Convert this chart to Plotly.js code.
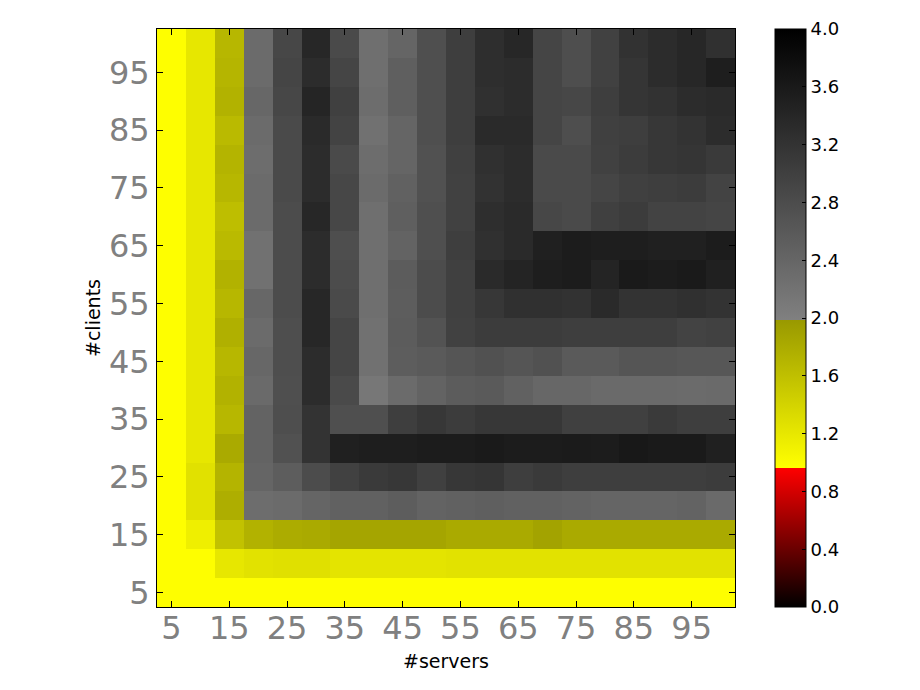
<!DOCTYPE html>
<html>
<head>
<meta charset="utf-8">
<script src="https://cdn.plot.ly/plotly-3.0.1.min.js"></script>
<style>html,body{margin:0;padding:0;background:#fff}#chart{width:920px;height:690px}</style>
</head>
<body>
<div id="chart"></div>
<script>
const servers = [5,10,15,20,25,30,35,40,45,50,55,60,65,70,75,80,85,90,95,100];
const clients = [5,10,15,20,25,30,35,40,45,50,55,60,65,70,75,80,85,90,95,100];
const tickLabels = [5,15,25,35,45,55,65,75,85,95];
const colorbarTicks = [0,0.4,0.8,1.2,1.6,2.0,2.4,2.8,3.2,3.6,4.0];

const c5   = [.97,.97,.97,.97,.97,.97,.97,.97,.97,.97,.97,.97,.97,.97,.97,.97,.97,.97,.97,.97];
const c10  = [.97,.97,1.20,1.25,1.27,1.27,1.23,1.23,1.23,1.23,1.25,1.25,1.25,1.25,1.25,1.25,1.25,1.25,1.25,1.25];
const c15  = [.97,1.12,1.58,1.74,1.80,1.82,1.87,1.87,1.87,1.87,1.82,1.82,1.82,1.89,1.82,1.82,1.82,1.82,1.82,1.82];
const c20  = [.97,1.26,1.78,2.28,2.31,2.41,2.47,2.47,2.53,2.44,2.47,2.50,2.47,2.47,2.44,2.41,2.41,2.41,2.44,2.34];
const c25  = [.97,1.26,1.72,2.41,2.53,2.81,2.97,3.09,3.13,3.00,3.13,3.16,3.03,3.09,3.03,3.03,3.03,3.03,3.03,3.06];
const c30  = [.97,1.20,1.82,2.44,2.72,3.19,3.50,3.53,3.53,3.56,3.56,3.59,3.56,3.56,3.58,3.56,3.63,3.59,3.59,3.50];
const c35  = [.97,1.20,1.69,2.44,2.78,3.19,2.75,2.75,3.03,3.13,3.06,3.13,3.13,3.13,3.00,3.00,3.00,3.09,3.03,3.03];
const c40  = [.97,1.20,1.74,2.34,2.75,3.31,2.84,2.13,2.31,2.44,2.56,2.59,2.47,2.38,2.38,2.34,2.34,2.34,2.31,2.34];
const c45  = [.97,1.20,1.69,2.38,2.78,3.31,2.91,2.22,2.53,2.59,2.66,2.72,2.66,2.72,2.59,2.59,2.66,2.66,2.63,2.63];
const c50  = [.97,1.20,1.76,2.31,2.78,3.38,2.91,2.22,2.56,2.69,2.97,3.06,3.06,3.06,3.03,3.03,3.03,3.03,2.94,2.97];
const c55  = [.97,1.20,1.69,2.38,2.81,3.38,2.84,2.25,2.53,2.81,3.00,3.13,3.25,3.25,3.22,3.34,3.19,3.19,3.25,3.19];
const c60  = [.97,1.20,1.74,2.22,2.81,3.31,2.81,2.25,2.56,2.81,3.00,3.34,3.44,3.53,3.56,3.44,3.59,3.56,3.59,3.50];
const c65  = [.97,1.20,1.66,2.22,2.81,3.31,2.78,2.25,2.44,2.75,3.03,3.25,3.34,3.50,3.56,3.53,3.53,3.50,3.50,3.56];
const c70  = [.97,1.20,1.62,2.31,2.81,3.38,2.88,2.25,2.50,2.75,2.97,3.28,3.34,2.88,2.84,3.00,3.06,2.94,2.94,2.91];
const c75  = [.97,1.20,1.69,2.31,2.84,3.31,2.88,2.31,2.47,2.72,2.97,3.22,3.31,2.84,2.84,2.91,3.00,3.03,3.06,2.94];
const c80  = [.97,1.20,1.72,2.28,2.84,3.31,2.84,2.28,2.41,2.72,3.00,3.25,3.31,2.84,2.84,2.97,3.06,3.13,3.16,3.09];
const c85  = [.97,1.20,1.66,2.31,2.84,3.34,2.94,2.22,2.41,2.75,3.03,3.34,3.34,2.91,2.78,3.00,3.03,3.13,3.19,3.31];
const c90  = [.97,1.20,1.74,2.38,2.88,3.41,3.00,2.28,2.50,2.75,3.03,3.25,3.31,2.91,2.88,3.03,3.16,3.22,3.31,3.34];
const c95  = [.97,1.20,1.71,2.31,2.91,3.31,2.91,2.25,2.50,2.75,3.03,3.28,3.31,2.91,2.78,2.97,3.16,3.31,3.38,3.53];
const c100 = [.97,1.20,1.69,2.31,2.88,3.38,2.84,2.25,2.41,2.75,3.03,3.28,3.38,2.91,2.78,2.97,3.22,3.31,3.38,3.25];
const z = [c5,c10,c15,c20,c25,c30,c35,c40,c45,c50,c55,c60,c65,c70,c75,c80,c85,c90,c95,c100];

const font = 'DejaVu Sans, sans-serif';
const colorscale = [
  [0, '#000000'], [0.241, '#ff0000'], [0.241, '#ffff00'],
  [0.4965, '#999900'], [0.4965, '#808080'], [1, '#000000']
];

const axis = {
  tickmode: 'array', tickvals: tickLabels, ticktext: tickLabels.map(String),
  range: [2.5, 102.5], ticks: 'inside', ticklen: 6, tickwidth: 1, tickcolor: '#000',
  tickfont: {family: font, size: 32, color: '#808080'},
  showline: true, linecolor: '#000', linewidth: 1, mirror: 'ticks',
  showgrid: false, zeroline: false, automargin: false
};

Plotly.newPlot('chart', [{
  type: 'heatmap', x: servers, y: clients, z: z, zmin: 0, zmax: 4, zsmooth: false,
  colorscale: colorscale, hoverongaps: false,
  colorbar: {
    thickness: 31, thicknessmode: 'pixels', len: 1, lenmode: 'fraction',
    x: 1.069, xanchor: 'left', xpad: 0, y: 0.5, yanchor: 'middle', ypad: 0,
    outlinecolor: '#000', outlinewidth: 1, ticks: 'inside', ticklen: 4, tickwidth: 1, tickcolor: '#000',
    tickmode: 'array', tickvals: colorbarTicks, ticktext: colorbarTicks.map(v => v.toFixed(1)),
    tickfont: {family: font, size: 18, color: '#000'}
  }
}], {
  width: 920, height: 690, autosize: false,
  margin: {l: 157, r: 185, t: 29, b: 83, pad: 0},
  paper_bgcolor: '#fff', plot_bgcolor: '#fff',
  font: {family: font},
  xaxis: Object.assign({}, axis, {ticklabelstandoff: -7, title: {text: '#servers', font: {family: font, size: 19, color: '#000'}, standoff: 8}}),
  yaxis: Object.assign({}, axis, {title: {text: '#clients', font: {family: font, size: 19, color: '#000'}, standoff: 3}})
}, {displayModeBar: false, responsive: false});
</script>
</body>
</html>
